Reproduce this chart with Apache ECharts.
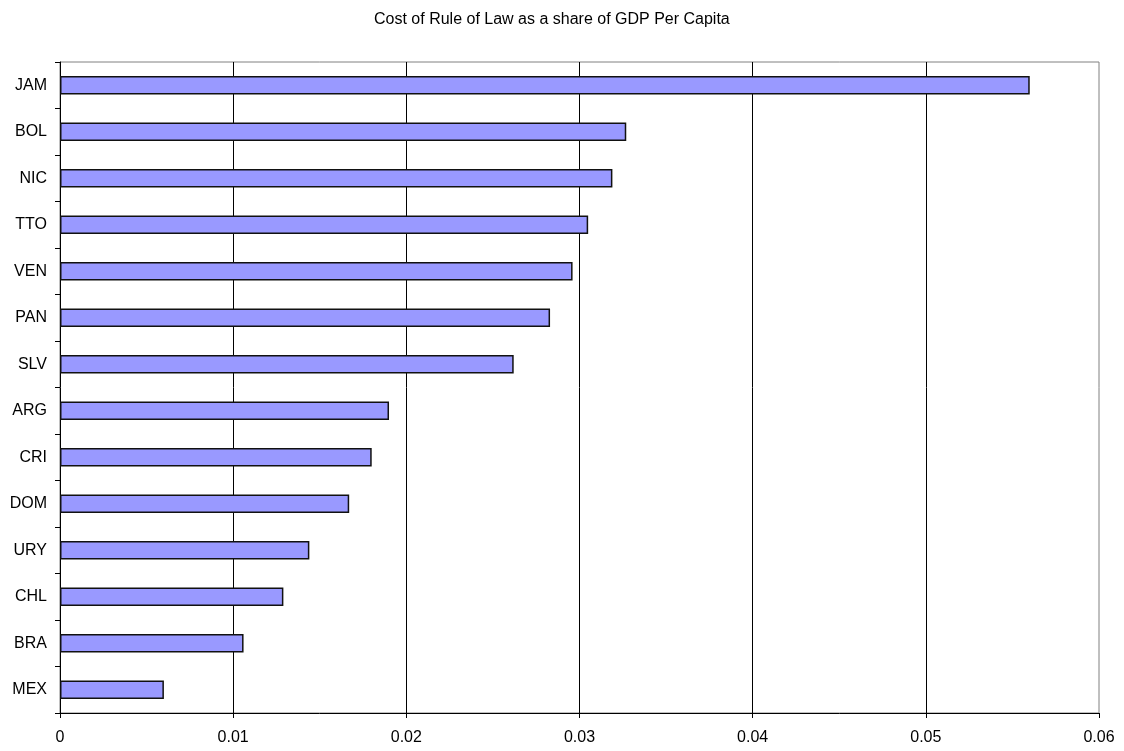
<!DOCTYPE html>
<html>
<head>
<meta charset="utf-8">
<script src="https://cdn.jsdelivr.net/npm/echarts@6/dist/echarts.min.js"></script>
<style>
  html, body { margin: 0; padding: 0; background: #fff; }
  #chart { width: 1124px; height: 751px; }
</style>
</head>
<body>
<div id="chart"></div>
<script>
// Countries, top to bottom
const countries = ['JAM', 'BOL', 'NIC', 'TTO', 'VEN', 'PAN', 'SLV', 'ARG', 'CRI', 'DOM', 'URY', 'CHL', 'BRA', 'MEX'];
// Cost of rule of law as a share of GDP per capita
const costShare = [0.0560, 0.0327, 0.0319, 0.0305, 0.0296, 0.0283, 0.0262, 0.0190, 0.0180, 0.0167, 0.0144, 0.0129, 0.0106, 0.0060];
// Value axis ticks
const xTicks = [0, 0.01, 0.02, 0.03, 0.04, 0.05, 0.06];

const font = 'Liberation Sans, Arial, sans-serif';
const chart = echarts.init(document.getElementById('chart'));
chart.setOption({
  backgroundColor: '#ffffff',
  animation: false,
  title: {
    text: 'Cost of Rule of Law as a share of GDP Per Capita',
    left: 369,
    top: 7,
    textStyle: { fontFamily: font, fontSize: 16, fontWeight: 'normal', color: '#000' }
  },
  grid: {
    left: 60, right: 25, top: 62, bottom: 38,
    show: true, borderColor: '#808080', borderWidth: 1,
    containLabel: false
  },
  xAxis: {
    type: 'value',
    min: xTicks[0],
    max: xTicks[xTicks.length - 1],
    interval: 0.01,
    axisLine: { show: true, lineStyle: { color: '#000', width: 1 } },
    axisTick: { show: true, length: 5, lineStyle: { color: '#000' } },
    axisLabel: {
      margin: 17, color: '#000', fontFamily: font, fontSize: 16,
      formatter: v => { const t = xTicks.find(x => Math.abs(x - v) < 1e-9); return t === undefined ? '' : String(t); }
    },
    splitLine: { show: true, showMinLine: false, showMaxLine: false, lineStyle: { color: '#000', width: 1 } }
  },
  yAxis: {
    type: 'category',
    data: countries,
    inverse: true,
    axisLine: { show: true, lineStyle: { color: '#000', width: 1 } },
    axisTick: { show: true, length: 5, alignWithLabel: false, lineStyle: { color: '#000' } },
    axisLabel: { margin: 13, color: '#000', fontFamily: font, fontSize: 16 },
    splitLine: { show: false }
  },
  series: [{
    type: 'bar',
    data: costShare,
    barCategoryGap: '60%',
    itemStyle: { color: '#9999ff', borderColor: '#111', borderWidth: 1.5 }
  }]
});
</script>
</body>
</html>
